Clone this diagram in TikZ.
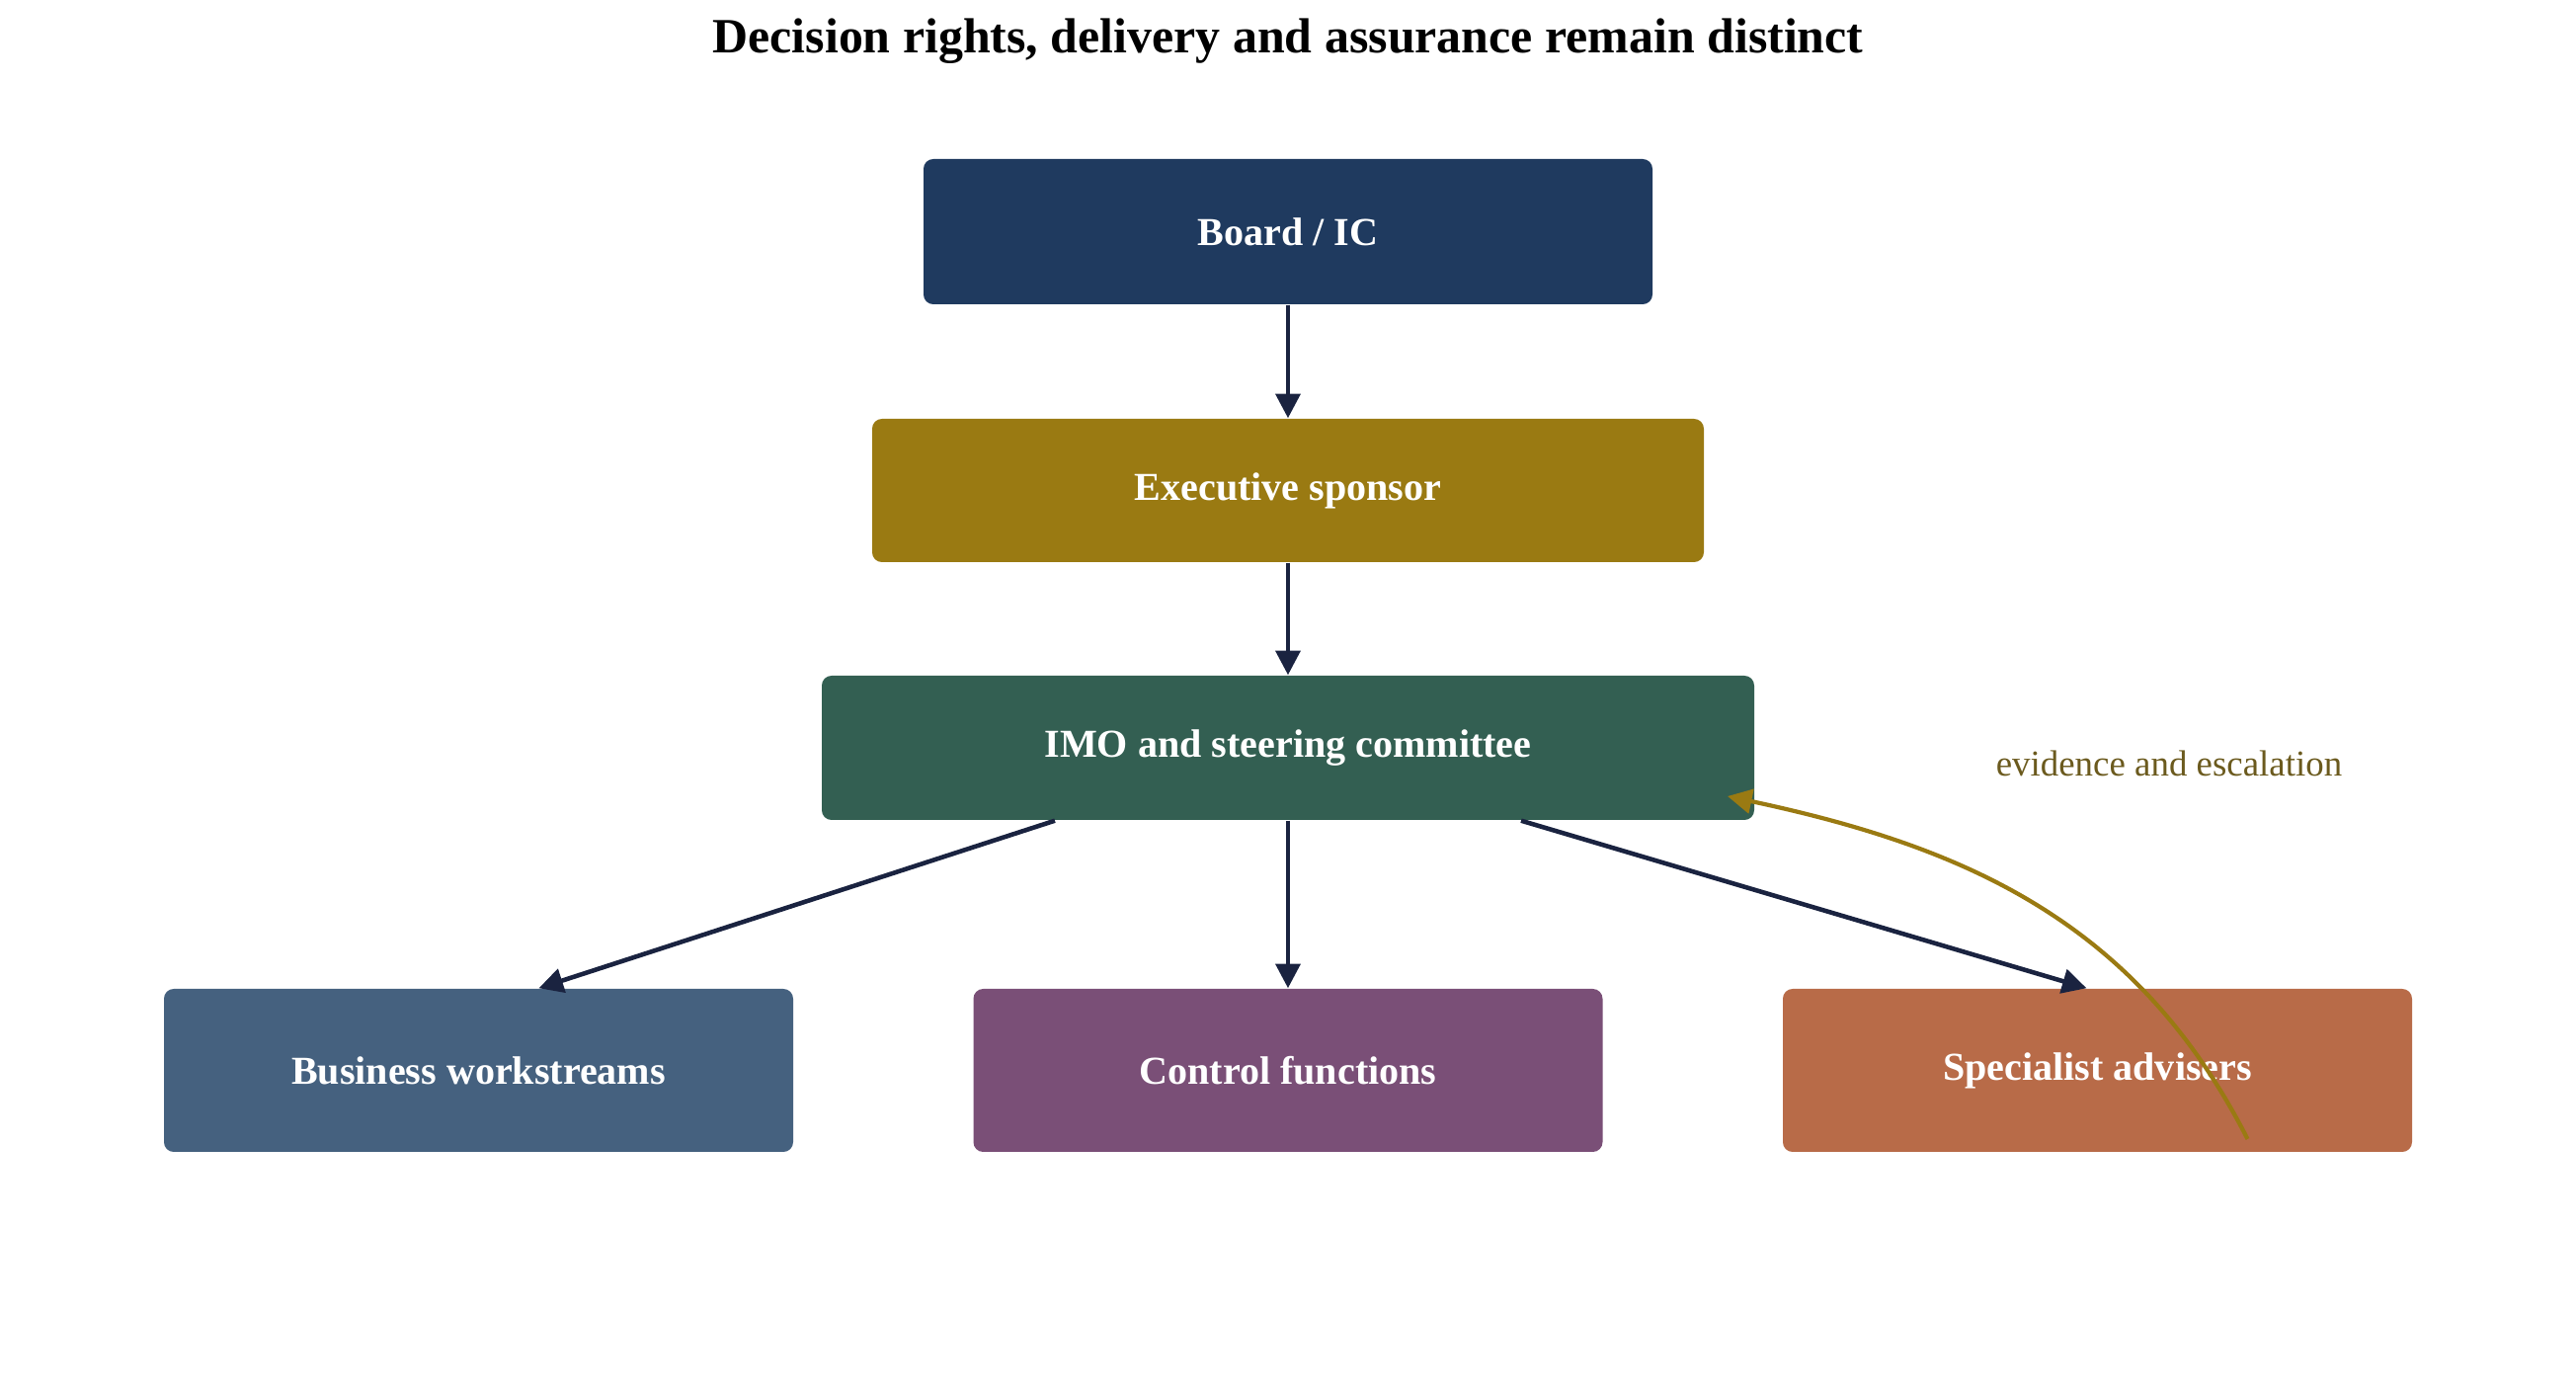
\documentclass[tikz,border=0pt]{standalone}
\usepackage{fontspec}
\setmainfont{Liberation Serif}
\usetikzlibrary{arrows.meta}
\definecolor{boardblue}{HTML}{1F3A5F}
\definecolor{sponsorgold}{HTML}{9A7A12}
\definecolor{imogreen}{HTML}{335F52}
\definecolor{bizblue}{HTML}{45617F}
\definecolor{ctrlpurple}{HTML}{7A4F77}
\definecolor{specrust}{HTML}{B86B48}
\definecolor{linknavy}{HTML}{1A2340}
\definecolor{escbrown}{HTML}{6B5A1E}
\begin{document}
\begin{tikzpicture}[
    box/.style={rounded corners=2.8pt, text=white, inner sep=0pt,
      font=\fontsize{11.4}{13}\selectfont\bfseries},
    link/.style={-{Triangle[length=7pt,width=7pt]}, line width=1.3pt, draw=linknavy},
    esc/.style={-{Triangle[length=7pt,width=7pt]}, line width=1.2pt, draw=sponsorgold}]
  \useasboundingbox (0,0) rectangle (26.08,-14.07);
  \draw
    (13.04,-0.42) node (t){\fontsize{14.2}{16}\selectfont\bfseries Decision rights, delivery and assurance remain distinct}
    (13.04,-2.345) node[box, fill=boardblue, minimum width=7.38cm, minimum height=1.47cm] (0){Board / IC}
    (13.04,-4.965) node[box, fill=sponsorgold, minimum width=8.42cm, minimum height=1.45cm] (1){Executive sponsor}
    (13.04,-7.57) node[box, fill=imogreen, minimum width=9.44cm, minimum height=1.46cm] (2){IMO and steering committee}
    (4.845,-10.835) node[box, fill=bizblue, minimum width=6.37cm, minimum height=1.65cm] (3){Business workstreams}
    (13.04,-10.835) node[box, fill=ctrlpurple, minimum width=6.37cm, minimum height=1.65cm] (4){Control functions}
    (21.235,-10.835) node[box, fill=specrust, minimum width=6.37cm, minimum height=1.65cm] (5){Specialist advisers}
    (21.96,-7.73) node[text=escbrown, font=\fontsize{10.5}{12}\selectfont] (6){evidence and escalation};
  \begin{scope}[link]
    \draw (0) to (1);
    \draw (1) to (2);
    \draw ([xshift=-2.36cm]2.south) to ([xshift=0.61cm]3.north);
    \draw (2) to (4);
    \draw ([xshift=2.36cm]2.south) to ([xshift=-0.11cm]5.north);
  \end{scope}
  \draw[esc] ([xshift=1.52cm,yshift=-0.695cm]5.center) to[out=117, in=-12] ([xshift=4.45cm,yshift=-0.49cm]2.center);
\end{tikzpicture}
\end{document}
